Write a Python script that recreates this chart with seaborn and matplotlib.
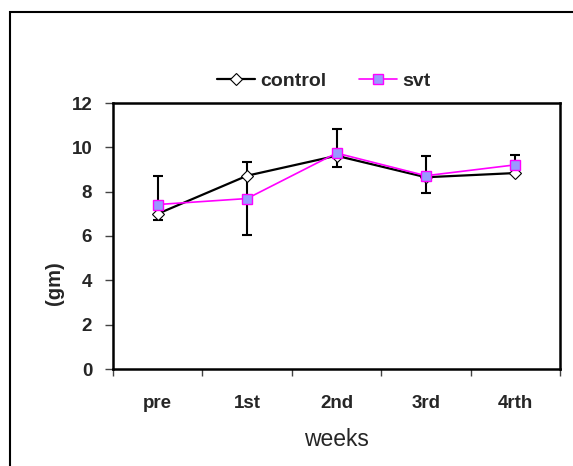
import numpy as np
import pandas as pd
import seaborn as sns
import matplotlib
matplotlib.use("Agg")
import matplotlib.pyplot as plt
from matplotlib.patches import Rectangle
from matplotlib.lines import Line2D

categories = ["pre", "1st", "2nd", "3rd", "4rth"]
control = [7.0, 8.72, 9.62, 8.65, 8.84]
svt = [7.42, 7.69, 9.74, 8.72, 9.21]
err_low = [6.74, 6.03, 9.12, 7.95, 9.0]
err_high = [8.72, 9.36, 10.83, 9.63, 9.67]
yticks = [0, 2, 4, 6, 8, 10, 12]

sns.set_theme(style="white")
plt.rcParams['font.family'] = ['Liberation Sans', 'DejaVu Sans']

fig = plt.figure(figsize=(5.73, 4.66), dpi=100)
ax = fig.add_axes([113/573, 1-369/466, (560-113)/573, (369-103)/466])

df = pd.DataFrame({"week": categories, "control": control, "svt": svt})

# error bars (drawn beneath)
xpos = np.arange(len(categories))
svt_arr = np.array(svt)
ax.errorbar(xpos, svt_arr, yerr=[svt_arr - np.array(err_low), np.array(err_high) - svt_arr],
            fmt='none', ecolor='black', elinewidth=1.5, capsize=3.6, capthick=1.5, zorder=1)

sns.lineplot(data=df, x="week", y="control", ax=ax, color="black", linewidth=1.6,
             marker="D", markersize=6.5, markerfacecolor="white", markeredgecolor="black",
             markeredgewidth=0.8, zorder=2, sort=False)
sns.lineplot(data=df, x="week", y="svt", ax=ax, color="#ff00ff", linewidth=1.2,
             marker="s", markersize=7.5, markerfacecolor="#9999ff", markeredgecolor="#ff00ff",
             markeredgewidth=1.0, zorder=3, sort=False)

ax.set_xlim(-0.5, len(categories) - 0.5)
ax.set_ylim(0, 12)
ax.set_yticks(yticks)
ax.set_yticklabels([str(v) for v in yticks], fontsize=13.5, fontweight='bold')

ax.set_xticks(np.arange(-0.5, len(categories), 1.0))
ax.set_xticklabels([])
ax.set_xticks(xpos, minor=True)
ax.set_xticklabels(categories, minor=True, fontsize=13.5, fontweight='bold')
ax.tick_params(axis='x', which='minor', length=0, pad=19)
ax.tick_params(axis='x', which='major', length=5, width=1, color='#444444', direction='out')
ax.tick_params(axis='y', length=6, width=1, color='#444444', direction='out', pad=9)
ax.xaxis.set_ticks_position('bottom')
ax.yaxis.set_ticks_position('left')

for s in ax.spines.values():
    s.set_color('black')
    s.set_linewidth(1.8)

ax.set_xlabel("weeks", fontsize=16.5)
ax.xaxis.set_label_coords(0.5, -0.222)
ax.set_ylabel("(gm)", fontsize=14.5, fontweight='bold')
ax.yaxis.set_label_coords(-0.11, 0.323)

handles = [
    Line2D([], [], color='black', linewidth=1.6, marker='D', markersize=6.5,
           markerfacecolor='white', markeredgecolor='black', markeredgewidth=0.8),
    Line2D([], [], color='#ff00ff', linewidth=1.2, marker='s', markersize=7.5,
           markerfacecolor='#9999ff', markeredgecolor='#ff00ff', markeredgewidth=1.0),
]
fig.legend(handles, ["control", "svt"], loc='center', bbox_to_anchor=(0.565, 0.826),
           ncol=2, frameon=False, prop={'size': 14, 'weight': 'bold'},
           handlelength=1.95, handletextpad=0.3, columnspacing=1.65)

fig.patches.append(Rectangle((10/573, -0.2), 1.5, 0.2 + (466-12)/466, transform=fig.transFigure,
                             fill=False, edgecolor='black', linewidth=1.5))

fig.savefig("out.png", dpi=100)
